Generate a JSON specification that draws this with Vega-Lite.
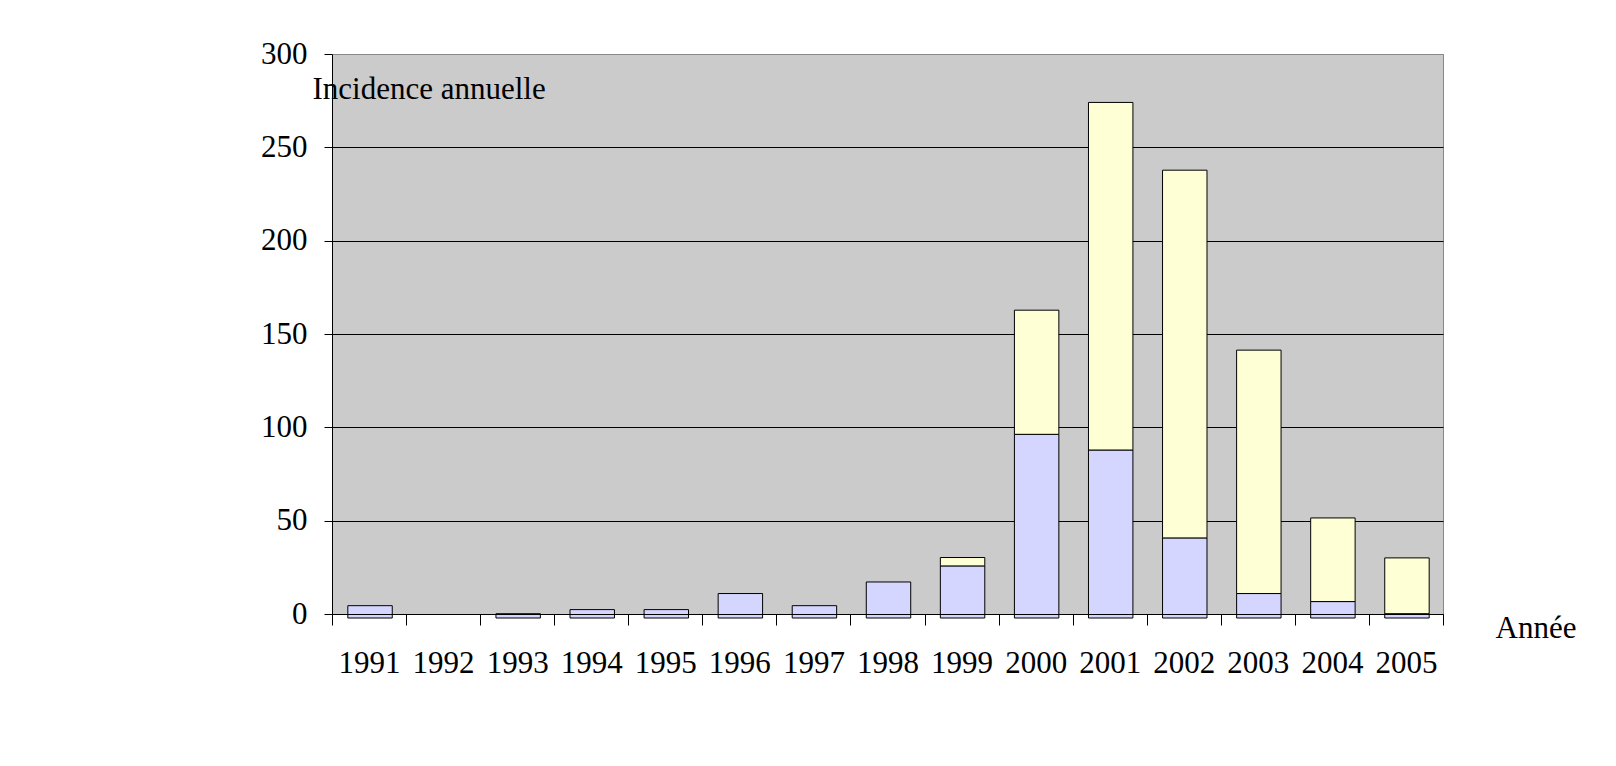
{
  "$schema": "https://vega.github.io/schema/vega-lite/v6.json",
  "width": 1111,
  "height": 560,
  "autosize": {"type": "none"},
  "padding": {"left": 332, "top": 54, "right": 173, "bottom": 152},
  "background": "white",
  "config": {
    "view": {"fill": "#CBCBCB", "stroke": "#888888", "strokeWidth": 1},
    "font": "Liberation Serif"
  },
  "data": {
    "values": [
      {"annee": "1991", "serie": "série 1", "incidence": 6.6},
      {"annee": "1993", "serie": "série 1", "incidence": 2.3},
      {"annee": "1994", "serie": "série 1", "incidence": 4.5},
      {"annee": "1995", "serie": "série 1", "incidence": 4.5},
      {"annee": "1996", "serie": "série 1", "incidence": 13.1},
      {"annee": "1997", "serie": "série 1", "incidence": 6.6},
      {"annee": "1998", "serie": "série 1", "incidence": 19.3},
      {"annee": "1999", "serie": "série 1", "incidence": 27.9},
      {"annee": "1999", "serie": "série 2", "incidence": 4.5},
      {"annee": "2000", "serie": "série 1", "incidence": 98.4},
      {"annee": "2000", "serie": "série 2", "incidence": 66.5},
      {"annee": "2001", "serie": "série 1", "incidence": 90.0},
      {"annee": "2001", "serie": "série 2", "incidence": 186.2},
      {"annee": "2002", "serie": "série 1", "incidence": 42.9},
      {"annee": "2002", "serie": "série 2", "incidence": 197.0},
      {"annee": "2003", "serie": "série 1", "incidence": 13.1},
      {"annee": "2003", "serie": "série 2", "incidence": 130.4},
      {"annee": "2004", "serie": "série 1", "incidence": 8.8},
      {"annee": "2004", "serie": "série 2", "incidence": 44.8},
      {"annee": "2005", "serie": "série 1", "incidence": 2.3},
      {"annee": "2005", "serie": "série 2", "incidence": 29.9}
    ]
  },
  "mark": {"type": "bar", "stroke": "black", "strokeWidth": 1, "yOffset": 4, "xOffset": 1, "width": {"band": 0.6}},
  "encoding": {
    "x": {
      "field": "annee",
      "type": "ordinal",
      "scale": {
        "domain": ["1991", "1992", "1993", "1994", "1995", "1996", "1997", "1998", "1999", "2000", "2001", "2002", "2003", "2004", "2005"],
        "paddingInner": 0,
        "paddingOuter": 0
      },
      "axis": {
        "title": "Année",
        "titleX": 1163,
        "titleY": 23,
        "titleAlign": "left",
        "titleBaseline": "alphabetic",
        "titleFontSize": 31,
        "titleFontWeight": "normal",
        "titleColor": "black",
        "titleFont": "Liberation Serif",
        "labelAngle": 0,
        "labelFontSize": 31,
        "labelFont": "Liberation Serif",
        "labelColor": "black",
        "labelBaseline": "alphabetic",
        "labelPadding": 47,
        "labelOverlap": false,
        "labelBound": false,
        "tickSize": 11,
        "tickBand": "extent",
        "tickColor": "black",
        "domainColor": "black",
        "grid": false,
        "zindex": 1
      }
    },
    "y": {
      "field": "incidence",
      "type": "quantitative",
      "stack": "zero",
      "scale": {"domain": [0, 300], "nice": false},
      "axis": {
        "title": "Incidence annuelle",
        "titleAngle": 0,
        "titleAlign": "left",
        "titleBaseline": "alphabetic",
        "titleX": -20,
        "titleY": 44,
        "titleFontSize": 31,
        "titleFontWeight": "normal",
        "titleColor": "black",
        "titleFont": "Liberation Serif",
        "values": [0, 50, 100, 150, 200, 250, 300],
        "labelFontSize": 31,
        "labelFont": "Liberation Serif",
        "labelColor": "black",
        "labelPadding": 17,
        "tickSize": 8,
        "tickColor": "black",
        "domainColor": "black",
        "grid": true,
        "gridColor": {"condition": {"test": "datum.value === 300", "value": "#888888"}, "value": "black"},
        "gridWidth": 1
      }
    },
    "color": {
      "field": "serie",
      "type": "nominal",
      "scale": {"domain": ["série 1", "série 2"], "range": ["#D5D6FF", "#FFFFD5"]},
      "legend": null
    },
    "order": {"field": "serie", "type": "nominal", "sort": "ascending"}
  }
}
